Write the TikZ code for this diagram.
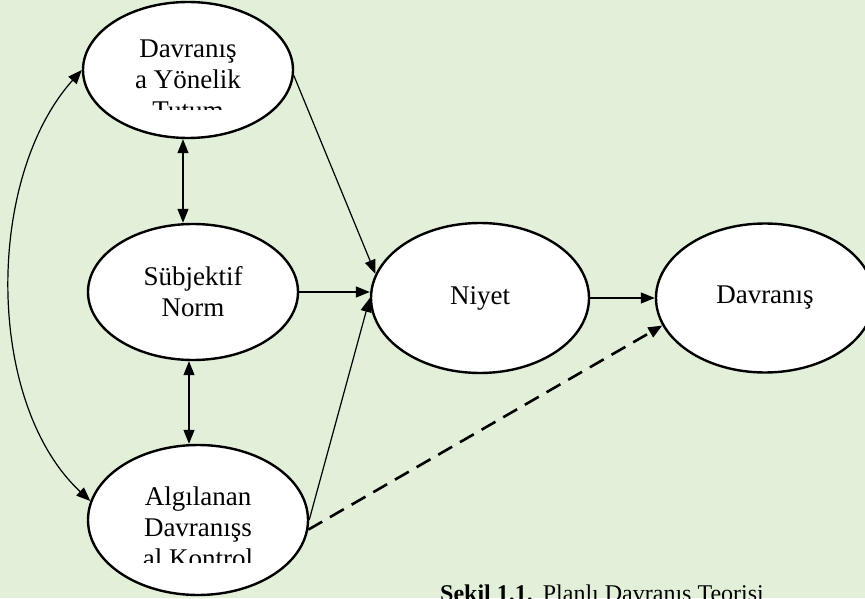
\documentclass[tikz,border=0pt]{standalone}
\usepackage{fontspec}
\setmainfont{Liberation Serif}
\usepackage{xcolor}
\usetikzlibrary{shapes.geometric,arrows.meta}

\definecolor{bgreen}{HTML}{E2EFD9}

\tikzset{
  oval/.style={ellipse, draw, line width=2.4pt, fill=white, inner sep=0pt,
    font=\fontsize{27}{31}\selectfont, align=center},
  txt/.style={anchor=base, inner sep=0pt, font=\fontsize{27}{31}\selectfont, align=center},
  arr/.style={line width=1.2pt, -{Triangle[length=14pt,width=11pt]}},
  darr/.style={line width=1.2pt, {Triangle[length=14pt,width=11pt]}-{Triangle[length=14pt,width=11pt]}}
}

\begin{document}
\begin{tikzpicture}[x=1pt,y=1pt]

\useasboundingbox (0,0) rectangle (865,598);
\fill[bgreen] (0,0) rectangle (865,598);

\node[oval, minimum width=210, minimum height=136] (T) at (188,528) {};
\node[oval, minimum width=210, minimum height=136] (N) at (193,306) {Sübjektif\\Norm};
\node[oval, minimum width=220, minimum height=150] (K) at (198,78) {};
\node[oval, minimum width=218, minimum height=150] (I) at (480,300) {Niyet};
\node[oval, minimum width=218, minimum height=149] (D) at (765,300) {Davranış};

\begin{scope}
\clip (80,488) rectangle (300,598);
\node[txt] (Tt) at (188,478) {Davranış\\a Yönelik\\Tutum};
\end{scope}
\begin{scope}
\clip (80,36) rectangle (310,160);
\node[txt] (Kt) at (198,31) {Algılanan\\Davranışs\\al Kontrol};
\end{scope}

\draw[arr] (T.-3) -- (I.167);
\draw[arr] (N.east) -- (N.east -| I.west);
\draw[arr] (K.east) -- (I.west);
\draw[arr] (I.east) -- (D.west);
\draw[arr, line width=2.6pt, dash pattern=on 16pt off 9pt] (K.-5) -- (D.195);

\draw[darr] ([xshift=-5]T.south) -- ([xshift=-5]T.south |- N.north);
\draw[darr] ([xshift=-4]N.south) -- ([xshift=-4]N.south |- K.north);
\draw[darr] (T.west) .. controls (-15,420) and (-15,195) .. (K.170);

\node[anchor=base west, inner sep=0pt, font=\fontsize{24}{28}\selectfont] (cap) at (440,-3)
  {\textbf{Şekil 1.1.}\hspace{10pt}Planlı Davranış Teorisi};

\end{tikzpicture}
\end{document}
